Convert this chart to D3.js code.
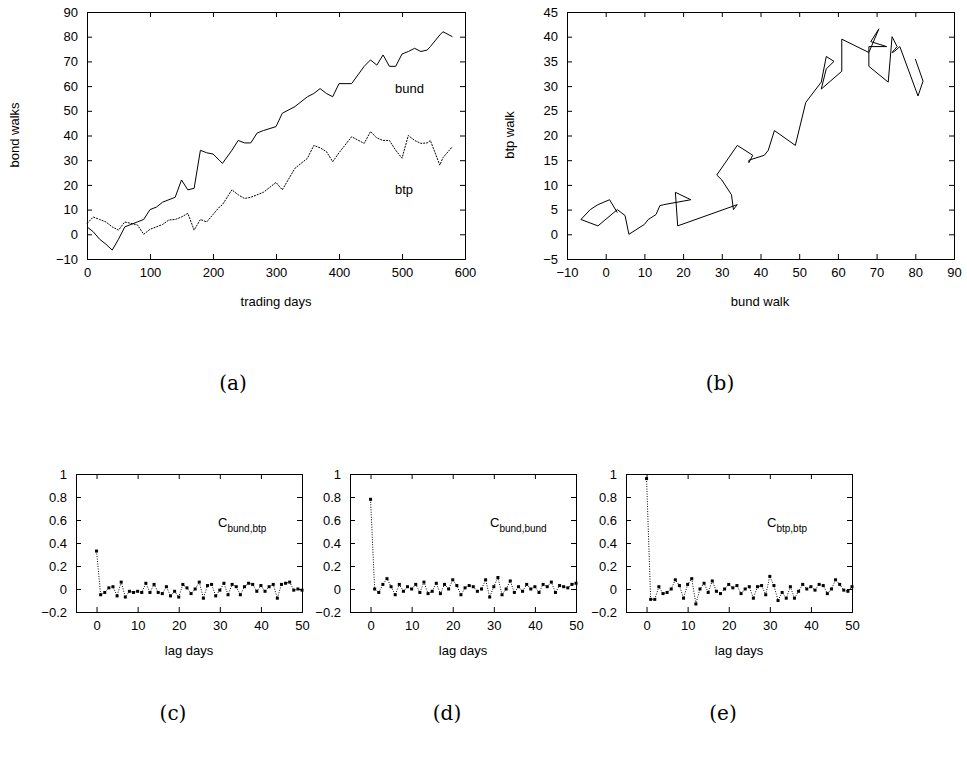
<!DOCTYPE html>
<html>
<head>
<meta charset="UTF-8">
<script src="https://d3js.org/d3.v7.min.js"></script>
<style>
  body { margin: 0; background: #fff; }
  text { font-family: "Liberation Sans", Arial, sans-serif; font-size: 13px; fill: #000; }
  .cap { font-family: "DejaVu Serif", "Liberation Serif", serif; font-size: 20px; }
</style>
</head>
<body>
<svg width="967" height="757"></svg>
<script>
// walks
var days = [0,10,20,30,40,50,60,80,90,100,110,120,130,140,150,160,170,180,190,200,210,215,230,240,250,260,270,280,300,310,330,350,360,370,380,390,400,420,440,450,460,470,480,490,500,510,520,530,540,545,560,565,580];
var bund = [3,1,-2,-4,-6.4,-2,3,5,6,10,11,13,14,15,22,18,18.6,34,33,32.5,30,28.7,34,38,37,37,41,42,43.6,49,51.7,55.7,57,59,57,55.7,61,61,68,70.6,68.5,72.6,68,68,73,74,75.3,74,74.6,76,80.7,82,80];
var btp  = [4.4,7,6,5,3,1.7,5,3.8,0,2,3,4,5.8,6,7,8.5,1.7,6,5,8,11,12,18,16,14.5,15,16,17,21,18,26.7,30.8,36,35,33.5,29.4,33,39.5,36.8,41.6,39,38,38,34,30.8,40,38,36.8,37,38,28,31,35.5];

// lagged correlations, lags 0..50
var lags = d3.range(0, 51);
var cBundBtp = [0.33,-0.05,-0.03,0.01,0.02,-0.06,0.06,-0.07,-0.02,-0.03,-0.02,-0.03,0.05,-0.03,0.04,-0.03,-0.04,0.02,-0.06,-0.02,-0.07,0.04,0.01,-0.04,0.00,0.06,-0.08,0.03,0.04,-0.06,-0.01,0.05,-0.05,0.04,0.02,-0.05,0.02,0.05,0.04,-0.02,0.03,-0.02,0.02,0.04,-0.08,0.04,0.05,0.06,-0.01,0.00,-0.01];
var cBundBund = [0.78,0.00,-0.03,0.04,0.09,0.02,-0.05,0.04,-0.02,0.02,0.00,0.04,-0.03,0.06,-0.04,-0.02,0.05,-0.04,0.04,0.00,0.08,0.03,-0.05,0.01,0.03,0.02,-0.02,0.00,0.08,-0.07,0.02,0.10,-0.05,0.00,0.07,-0.03,0.02,-0.02,0.04,0.00,0.02,-0.03,0.04,0.02,0.06,-0.03,0.03,0.02,0.01,0.04,0.05];
var cBtpBtp = [0.96,-0.09,-0.09,0.02,-0.04,-0.03,0.00,0.08,0.03,-0.08,0.04,0.09,-0.13,0.00,0.05,-0.03,0.07,-0.02,-0.04,0.00,0.04,0.01,0.03,-0.04,0.00,0.02,-0.08,0.02,0.03,-0.05,0.11,0.03,-0.10,-0.03,-0.08,0.02,-0.08,-0.02,0.04,0.00,0.02,-0.01,0.04,0.03,-0.04,0.00,0.08,0.04,-0.01,-0.02,0.02];

var svg = d3.select("svg");

function frame(x0, x1, y0, y1, xd, yd, xt, yt) {
  var x = d3.scaleLinear().domain(xd).range([x0, x1]);
  var y = d3.scaleLinear().domain(yd).range([y1, y0]);
  var g = svg.append("g");
  g.append("g").attr("transform", "translate(0," + y1 + ")")
    .call(d3.axisBottom(x).tickValues(xt).tickSize(-5).tickPadding(9).tickFormat(d3.format("d")));
  g.append("g").attr("transform", "translate(0," + y0 + ")")
    .call(d3.axisTop(x).tickValues(xt).tickSize(-5).tickFormat(""));
  g.append("g").attr("transform", "translate(" + x0 + ",0)")
    .call(d3.axisLeft(y).tickValues(yt).tickSize(-5).tickPadding(9).tickFormat(d3.format("~g")));
  g.append("g").attr("transform", "translate(" + x1 + ",0)")
    .call(d3.axisRight(y).tickValues(yt).tickSize(-5).tickFormat(""));
  g.selectAll(".domain").attr("stroke", "#000");
  g.selectAll(".tick line").attr("stroke", "#000");
  g.selectAll(".tick text").style("font-size", "13px").attr("fill", "#000")
    .style("font-family", "Liberation Sans, Arial, sans-serif");
  return {x: x, y: y};
}

// panel (a)
var a = frame(87, 465, 12, 259, [0, 600], [-10, 90], d3.range(0, 601, 100), d3.range(-10, 91, 10));
svg.append("path").datum(days)
  .attr("d", d3.line().x(function (d) { return a.x(d); }).y(function (d, i) { return a.y(bund[i]); }))
  .attr("fill", "none").attr("stroke", "#000").attr("stroke-width", 1);
svg.append("path").datum(days)
  .attr("d", d3.line().x(function (d) { return a.x(d); }).y(function (d, i) { return a.y(btp[i]); }))
  .attr("fill", "none").attr("stroke", "#000").attr("stroke-width", 1).attr("stroke-dasharray", "2,1");
svg.append("text").attr("x", 395).attr("y", 93).text("bund");
svg.append("text").attr("x", 395).attr("y", 194).text("btp");
svg.append("text").attr("x", 276).attr("y", 306).attr("text-anchor", "middle").text("trading days");
svg.append("text").attr("transform", "translate(19,135) rotate(-90)").attr("text-anchor", "middle").text("bond walks");
svg.append("text").attr("class", "cap").attr("x", 233).attr("y", 390).attr("text-anchor", "middle").text("(a)");

// panel (b)
var b = frame(567, 954, 12, 259, [-10, 90], [-5, 45], d3.range(-10, 91, 10), d3.range(-5, 46, 5));
svg.append("path").datum(bund)
  .attr("d", d3.line().x(function (d) { return b.x(d); }).y(function (d, i) { return b.y(btp[i]); }))
  .attr("fill", "none").attr("stroke", "#000").attr("stroke-width", 1);
svg.append("text").attr("x", 760).attr("y", 306).attr("text-anchor", "middle").text("bund walk");
svg.append("text").attr("transform", "translate(514,135) rotate(-90)").attr("text-anchor", "middle").text("btp walk");
svg.append("text").attr("class", "cap").attr("x", 720).attr("y", 390).attr("text-anchor", "middle").text("(b)");

// panels (c)-(e)
function corr(x0, vals, sub, cap, capx, lx) {
  var f = frame(x0, x0 + 226, 474, 612, [-5, 50], [-0.2, 1], d3.range(0, 51, 10), [-0.2, 0, 0.2, 0.4, 0.6, 0.8, 1]);
  svg.append("path").datum(lags)
    .attr("d", d3.line().x(function (d) { return f.x(d); }).y(function (d) { return f.y(vals[d]); }))
    .attr("fill", "none").attr("stroke", "#000").attr("stroke-width", 1).attr("stroke-dasharray", "1,1.5");
  svg.append("g").selectAll("rect").data(lags).join("rect")
    .attr("x", function (d) { return f.x(d) - 1.5; }).attr("y", function (d) { return f.y(vals[d]) - 1.5; })
    .attr("width", 3).attr("height", 3).attr("fill", "#000");
  var t = svg.append("text").attr("x", lx).attr("y", 527).text("C");
  t.append("tspan").attr("dy", 5).style("font-size", "10px").text(sub);
  svg.append("text").attr("x", f.x(22.5)).attr("y", 655).attr("text-anchor", "middle").text("lag days");
  svg.append("text").attr("class", "cap").attr("x", capx).attr("y", 720).attr("text-anchor", "middle").text(cap);
}
corr(76, cBundBtp, "bund,btp", "(c)", 173, 218);
corr(350, cBundBund, "bund,bund", "(d)", 447, 490);
corr(626, cBtpBtp, "btp,btp", "(e)", 723, 767);
</script>
</body>
</html>
